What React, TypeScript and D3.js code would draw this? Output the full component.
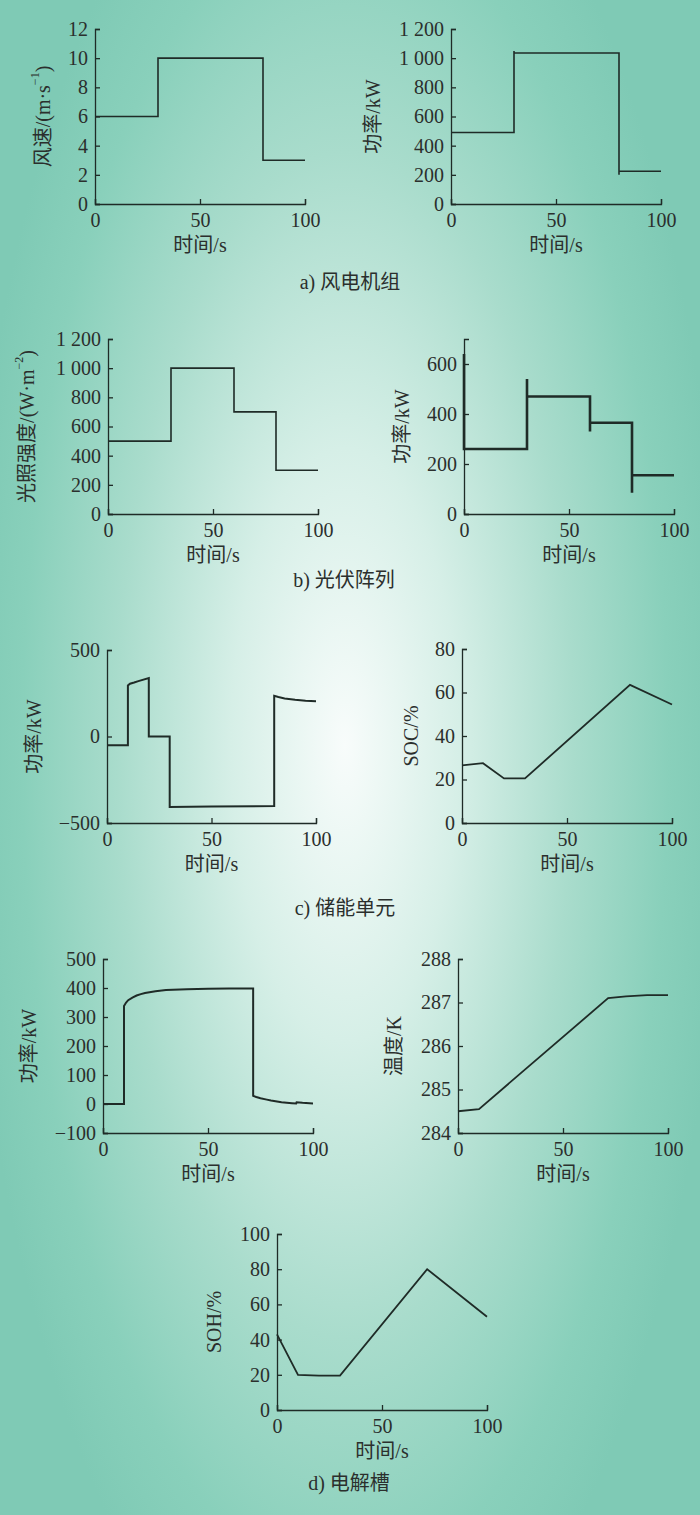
import React, { useEffect, useRef } from "react";
import * as d3 from "d3";

// ---------- data ----------
const xTicks = [0, 50, 100];

const windT = [0, 30, 30, 80, 80, 100];
const windV = [6, 6, 10, 10, 3, 3];
const windTicks = [0, 2, 4, 6, 8, 10, 12];

const wtPowT = [0, 30, 30, 30, 80, 80, 80, 100];
const wtPowV = [490, 490, 1050, 1035, 1035, 200, 225, 225];
const wtPowTicks = [0, 200, 400, 600, 800, 1000, 1200];

const irrT = [0, 30, 30, 60, 60, 80, 80, 100];
const irrV = [500, 500, 1000, 1000, 700, 700, 300, 300];
const irrTicks = [0, 200, 400, 600, 800, 1000, 1200];

const pvT = [0, 0, 30, 30, 30, 60, 60, 60, 80, 80, 80, 100];
const pvV = [640, 260, 260, 540, 470, 470, 330, 365, 365, 85, 155, 155];
const pvTicks = [0, 200, 400, 600];

const essT = [0, 10, 10, 11, 13, 15, 20, 20, 30, 30, 50, 80, 80, 82, 85, 90, 95, 100];
const essV = [-50, -50, 295, 305, 312, 320, 338, 0, 0, -408, -405, -402, 235, 228, 220, 212, 207, 204];
const essTicks = [-500, 0, 500];

const socT = [0, 10, 20, 30, 80, 100];
const socV = [26.5, 27.5, 20.5, 20.5, 63.5, 54.5];
const socTicks = [0, 20, 40, 60, 80];

const elzT = [0, 10, 10, 11, 12, 14, 16, 18, 20, 25, 30, 40, 50, 60, 71.5, 71.5, 73, 75, 78, 80, 85, 90, 92, 92.2, 95, 100];
const elzV = [0, 0, 338, 350, 358, 367, 374, 379, 383, 389, 393, 396, 397, 398, 398, 28, 24, 20, 15, 12, 6, 3, 2, 6, 4, 2];
const elzTicks = [-100, 0, 100, 200, 300, 400, 500];

const tempT = [0, 10, 71.5, 80, 90, 100];
const tempV = [284.5, 284.55, 287.1, 287.14, 287.17, 287.17];
const tempTicks = [284, 285, 286, 287, 288];

const sohT = [0, 10, 20, 30, 71.5, 100];
const sohV = [43, 20, 19.5, 19.5, 80, 53];
const sohTicks = [0, 20, 40, 60, 80, 100];

const captions = ["a) 风电机组", "b) 光伏阵列", "c) 储能单元", "d) 电解槽"];

// ---------- layout ----------
type Panel = {
  px: [number, number];
  py: [number, number];
  domain: [number, number];
  ticks: number[];
  t: number[];
  v: number[];
  label: string;
  sup?: string;
  labelAfter?: string;
  labelX: number;
  sw: number;
};

const panels: Panel[] = [
  { px: [95, 305], py: [204, 29], domain: [0, 12], ticks: windTicks, t: windT, v: windV, label: "风速/(m·s", sup: "−1", labelAfter: ")", labelX: 43, sw: 1.6 },
  { px: [451, 661], py: [204, 29], domain: [0, 1200], ticks: wtPowTicks, t: wtPowT, v: wtPowV, label: "功率/kW", labelX: 373, sw: 1.6 },
  { px: [108, 318], py: [514, 339], domain: [0, 1200], ticks: irrTicks, t: irrT, v: irrV, label: "光照强度/(W·m", sup: "−2", labelAfter: ")", labelX: 27, sw: 1.6 },
  { px: [464, 674], py: [514, 339], domain: [0, 700], ticks: pvTicks, t: pvT, v: pvV, label: "功率/kW", labelX: 402, sw: 2.6 },
  { px: [107, 316], py: [823, 650], domain: [-500, 500], ticks: essTicks, t: essT, v: essV, label: "功率/kW", labelX: 34, sw: 2 },
  { px: [462, 672], py: [823, 649], domain: [0, 80], ticks: socTicks, t: socT, v: socV, label: "SOC/%", labelX: 411, sw: 1.8 },
  { px: [103, 313], py: [1133, 959], domain: [-100, 500], ticks: elzTicks, t: elzT, v: elzV, label: "功率/kW", labelX: 29, sw: 2 },
  { px: [458, 668], py: [1133, 959], domain: [284, 288], ticks: tempTicks, t: tempT, v: tempV, label: "温度/K", labelX: 394, sw: 1.8 },
  { px: [277, 487], py: [1410, 1234], domain: [0, 100], ticks: sohTicks, t: sohT, v: sohV, label: "SOH/%", labelX: 214, sw: 1.8 },
];

const captionPos: [number, number][] = [
  [350, 289],
  [344, 587],
  [345, 915],
  [349, 1490],
];

const FONT = "'Liberation Serif', 'Times New Roman', 'Noto Sans CJK SC', serif";
const INK = "#1f2b27";
const TXT = "#2b2f2d";

const fmt = (d: number) => {
  const s = Math.abs(d) >= 1000 ? d3.format(",")(d).replace(/,/g, " ") : String(Math.abs(d));
  return d < 0 ? "−" + s : s;
};

export default function App() {
  const ref = useRef<SVGSVGElement>(null);

  useEffect(() => {
    const svg = d3.select(ref.current);
    svg.selectAll("*").remove();

    const defs = svg.append("defs");
    const g = defs
      .append("radialGradient")
      .attr("id", "bg")
      .attr("gradientUnits", "userSpaceOnUse")
      .attr("cx", 345)
      .attr("cy", 745)
      .attr("r", 380)
      .attr("gradientTransform", "translate(345,745) scale(1,2.6) translate(-345,-745)");
    [
      [0, "#f8fcfb"],
      [0.3, "#d6efe7"],
      [0.6, "#a9dccc"],
      [0.85, "#89d0bb"],
      [1, "#7fcab5"],
    ].forEach(([o, c]) => g.append("stop").attr("offset", o as number).attr("stop-color", c as string));

    svg.append("rect").attr("width", 700).attr("height", 1515).attr("fill", "url(#bg)");

    panels.forEach((p) => {
      const x = d3.scaleLinear().domain([0, 100]).range(p.px);
      const y = d3.scaleLinear().domain(p.domain).range(p.py);
      const gp = svg.append("g");

      const xa = gp
        .append("g")
        .attr("transform", `translate(0,${p.py[0]})`)
        .call(d3.axisBottom(x).tickValues(xTicks).tickSize(-5).tickSizeOuter(-5).tickPadding(9).tickFormat((d) => String(d)));
      const ya = gp
        .append("g")
        .attr("transform", `translate(${p.px[0]},0)`)
        .call(d3.axisLeft(y).tickValues(p.ticks).tickSize(-5).tickSizeOuter(-5).tickPadding(7).tickFormat((d) => fmt(d as number)));

      [xa, ya].forEach((a) => {
        a.select(".domain").attr("stroke", INK).attr("stroke-width", 1.3);
        a.selectAll(".tick line").attr("stroke", INK).attr("stroke-width", 1.3);
        a.selectAll(".tick text").attr("fill", TXT).attr("font-family", FONT).attr("font-size", 20);
      });

      const pts = p.t.map((t, i) => [t, p.v[i]] as [number, number]);
      const line = d3
        .line<[number, number]>()
        .x((d) => x(d[0]))
        .y((d) => y(d[1]));
      gp.append("path")
        .attr("d", line(pts))
        .attr("fill", "none")
        .attr("stroke", INK)
        .attr("stroke-width", p.sw)
        .attr("stroke-linejoin", "miter");

      // x label
      gp.append("text")
        .attr("x", (p.px[0] + p.px[1]) / 2)
        .attr("y", p.py[0] + 48)
        .attr("text-anchor", "middle")
        .attr("font-family", FONT)
        .attr("font-size", 20)
        .attr("fill", TXT)
        .text("时间/s");

      // y label
      const cy = (p.py[0] + p.py[1]) / 2;
      const yl = gp
        .append("text")
        .attr("transform", `translate(${p.labelX},${cy}) rotate(-90)`)
        .attr("text-anchor", "middle")
        .attr("dominant-baseline", "central")
        .attr("font-family", FONT)
        .attr("font-size", 20)
        .attr("fill", TXT);
      yl.append("tspan").text(p.label);
      if (p.sup) {
        yl.append("tspan").attr("font-size", 12).attr("dy", -8).text(p.sup);
        yl.append("tspan").attr("dy", 8).text(p.labelAfter || "");
      }
    });

    captions.forEach((c, i) => {
      svg
        .append("text")
        .attr("x", captionPos[i][0])
        .attr("y", captionPos[i][1])
        .attr("text-anchor", "middle")
        .attr("font-family", FONT)
        .attr("font-size", 20)
        .attr("fill", TXT)
        .text(c);
    });
  }, []);

  return (
    <svg
      ref={ref}
      width={700}
      height={1515}
      style={{ position: "absolute", left: 0, top: 0, display: "block" }}
    />
  );
}
